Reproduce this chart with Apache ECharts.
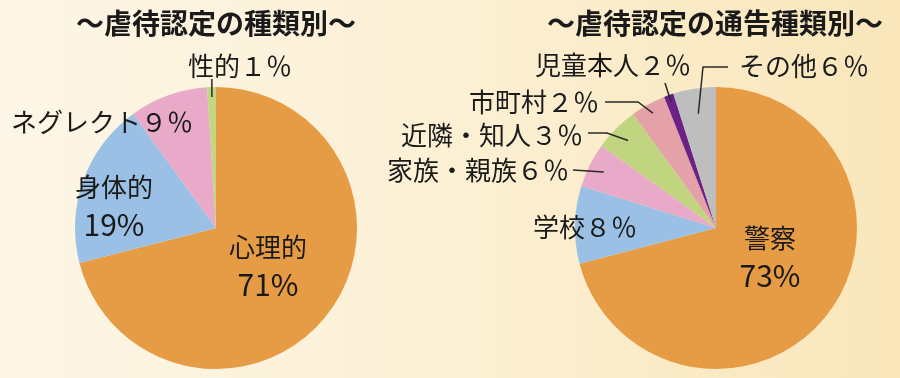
<!DOCTYPE html>
<html>
<head>
<meta charset="utf-8">
<script src="https://cdn.jsdelivr.net/npm/echarts@6/dist/echarts.min.js"></script>
<style>
html,body{margin:0;padding:0;}
#chart{width:900px;height:378px;}
</style>
</head>
<body>
<div id="chart"></div>
<script>
// ---- data ----
var titleLeft = '～虐待認定の種類別～';
var titleRight = '～虐待認定の通告種類別～';

var typeNames = ['心理的', '身体的', 'ネグレクト', '性的'];
var typeShares = [71, 19, 9, 1];
var typeLabels = ['心理的\n{p|71%}', '身体的\n{p|19%}', 'ネグレクト９％', '性的１％'];

var sourceNames = ['警察', '学校', '家族・親族', '近隣・知人', '市町村', '児童本人', 'その他'];
var sourceShares = [71, 8.9, 5.1, 5.1, 4.0, 1.1, 4.9];
var sourceLabels = ['警察\n{p|73%}', '学校８％', '家族・親族６％', '近隣・知人３％', '市町村２％', '児童本人２％', 'その他６％'];

// ---- styling / layout ----
var typeColors = ['#E69C45', '#9AC1E5', '#E8AAC8', '#C3D681'];
var sourceColors = ['#E69C45', '#9AC1E5', '#E8AAC8', '#C1D581', '#E4A1A8', '#6A2286', '#BEBEBE'];
var R = 141;
var leftCenter = [216, 228];
var rightCenter = [716, 228];
var FONT = '"Noto Sans CJK JP", "Noto Sans", sans-serif';
var textColor = '#1a1a1a';

var typeLabelPos = [
  {x: 268, y: 266, align: 'center'},
  {x: 114, y: 206, align: 'center'},
  {x: 102, y: 122, align: 'center'},
  {x: 240, y: 66, align: 'center', guide: [[null, 79]], frac: 0.93}
];
var sourceLabelPos = [
  {x: 770, y: 257, align: 'center'},
  {x: 585, y: 227, align: 'center'},
  {x: 569, y: 170, align: 'right', guide: [[573, 170]], frac: 0.89},
  {x: 583, y: 135, align: 'right', guide: [[607, 133], [588, 133]], frac: 0.88},
  {x: 599, y: 102, align: 'right', guide: [[638, 102], [605, 102]], frac: 0.93},
  {x: 691, y: 65, align: 'right', guide: [[665, 83]], frac: 0.95},
  {x: 739, y: 66, align: 'left', guide: [[703, 67], [728, 67]], frac: 0.82}
];

function slicePoint(center, values, idx, frac) {
  var total = 0, cum = 0;
  for (var i = 0; i < values.length; i++) { total += values[i]; if (i < idx) cum += values[i]; }
  var a = (cum + values[idx] / 2) / total * Math.PI * 2;
  return [center[0] + frac * R * Math.sin(a), center[1] - frac * R * Math.cos(a)];
}

function makeLayout(center, values, posList) {
  return function (params) {
    var p = posList[params.dataIndex];
    var out = {x: p.x, y: p.y, align: p.align, verticalAlign: 'middle'};
    if (p.guide) {
      var sp = slicePoint(center, values, params.dataIndex, p.frac);
      var pts = [sp];
      p.guide.forEach(function (g) { pts.push([g[0] == null ? sp[0] : g[0], g[1]]); });
      if (pts.length === 2) pts.splice(1, 0, [(pts[0][0] + pts[1][0]) / 2, (pts[0][1] + pts[1][1]) / 2]);
      out.labelLinePoints = pts;
    }
    return out;
  };
}

function buildData(names, shares, labels, colors, posList, overlay) {
  return names.map(function (n, i) {
    var d = {name: n, value: shares[i]};
    if (overlay) {
      d.itemStyle = {color: 'rgba(0,0,0,0)'};
      d.label = {formatter: labels[i]};
      d.labelLine = {show: !!posList[i].guide};
    } else {
      d.itemStyle = {color: colors[i]};
    }
    return d;
  });
}

var labelStyle = {
  show: true,
  position: 'outside',
  color: textColor,
  fontFamily: FONT,
  fontSize: 26,
  lineHeight: 37,
  rich: {
    p: {fontFamily: FONT, fontSize: 30, lineHeight: 37, color: textColor}
  }
};
var lineStyle = {show: true, showAbove: true, length: 10, length2: 10, lineStyle: {color: '#2a2a2a', width: 1.5, opacity: 1}};

function baseSeries(center, names, shares, colors, posList) {
  return {
    type: 'pie', radius: R, center: center, startAngle: 90, clockwise: true, z: 2,
    silent: true, itemStyle: {borderWidth: 0},
    label: {show: false}, labelLine: {show: false},
    emphasis: {disabled: true},
    data: buildData(names, shares, null, colors, posList, false)
  };
}
function labelSeries(center, names, shares, labels, posList) {
  return {
    type: 'pie', radius: R, center: center, startAngle: 90, clockwise: true, z: 5,
    silent: true, avoidLabelOverlap: false, itemStyle: {borderWidth: 0},
    label: labelStyle, labelLine: lineStyle,
    labelLayout: makeLayout(center, shares, posList),
    emphasis: {disabled: true},
    data: buildData(names, shares, labels, null, posList, true)
  };
}

var chart = echarts.init(document.getElementById('chart'), null, {renderer: 'canvas'});
chart.setOption({
  animation: false,
  backgroundColor: {
    type: 'linear', x: 0, y: 0, x2: 1, y2: 0,
    colorStops: [{offset: 0, color: '#FDF6E7'}, {offset: 0.5, color: '#FCF0D4'}, {offset: 1, color: '#F9E6BA'}]
  },
  title: [
    {text: titleLeft, left: 211, top: 4, textAlign: 'center',
     textStyle: {fontFamily: FONT, fontSize: 28, fontWeight: 'bold', color: '#1a1a1a'}},
    {text: titleRight, left: 710, top: 4, textAlign: 'center',
     textStyle: {fontFamily: FONT, fontSize: 28, fontWeight: 'bold', color: '#1a1a1a'}}
  ],
  series: [
    baseSeries(leftCenter, typeNames, typeShares, typeColors, typeLabelPos),
    baseSeries(rightCenter, sourceNames, sourceShares, sourceColors, sourceLabelPos),
    labelSeries(leftCenter, typeNames, typeShares, typeLabels, typeLabelPos),
    labelSeries(rightCenter, sourceNames, sourceShares, sourceLabels, sourceLabelPos)
  ]
});
</script>
</body>
</html>
